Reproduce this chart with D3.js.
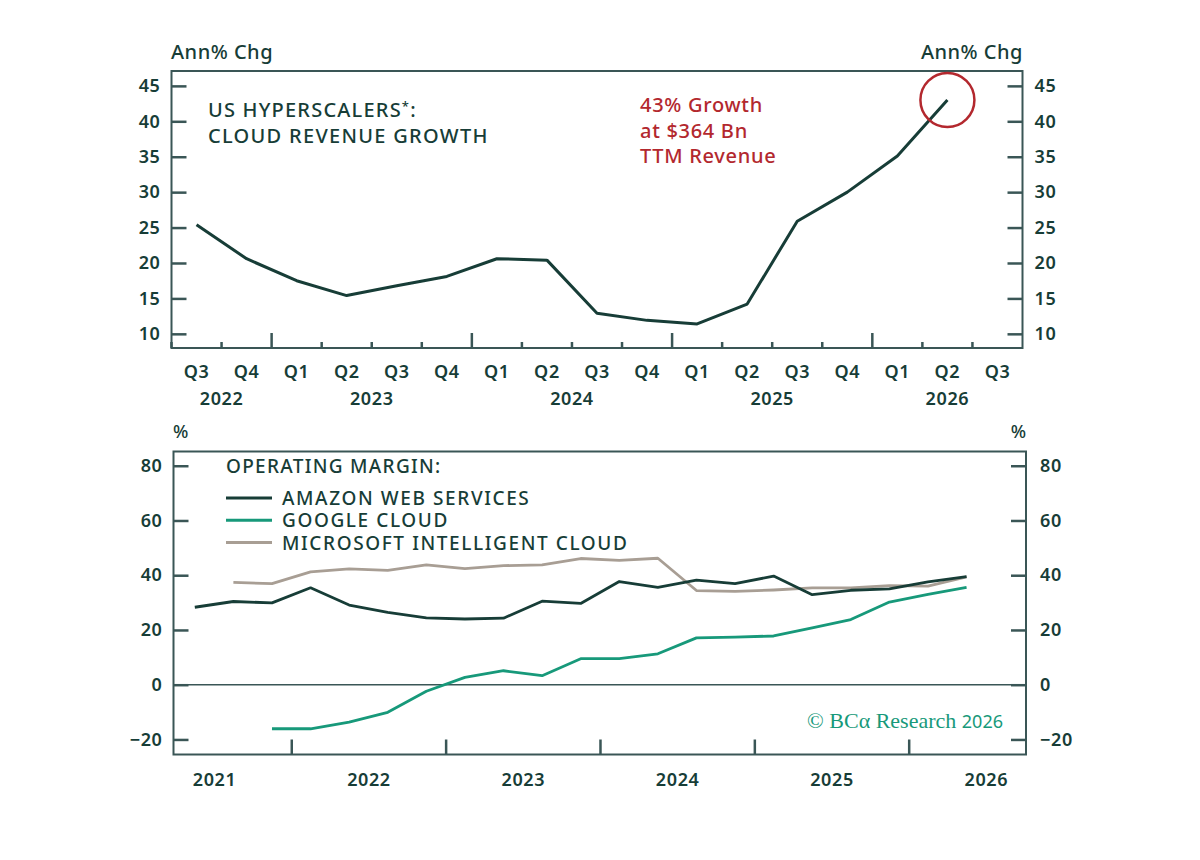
<!DOCTYPE html>
<html>
<head>
<meta charset="utf-8">
<script src="https://d3js.org/d3.v7.min.js"></script>
<style>
  body { margin: 0; background: #ffffff; }
  svg text { font-family: "Noto Sans", "DejaVu Sans", sans-serif; }
</style>
</head>
<body>
<div id="chart"></div>
<script>
// ---- data ----
// top panel: quarters shown on the axis (Q3 2022 .. Q3 2026)
var quarters = ["2022Q3","2022Q4","2023Q1","2023Q2","2023Q3","2023Q4","2024Q1","2024Q2",
                "2024Q3","2024Q4","2025Q1","2025Q2","2025Q3","2025Q4","2026Q1","2026Q2","2026Q3"];
// cloud revenue growth, ann% chg (Q3 2022 .. Q2 2026)
var growth = [25.4, 20.6, 17.5, 15.4, 16.8, 18.1, 20.6, 20.4, 12.9, 11.9, 11.4, 14.2, 25.9, 30.0, 35.1, 43.0];
var growthTicks = [10, 15, 20, 25, 30, 35, 40, 45];

// bottom panel: operating margins, Q2 2021 .. Q2 2026
var marginQuarters = ["2021Q2","2021Q3","2021Q4","2022Q1","2022Q2","2022Q3","2022Q4","2023Q1",
                      "2023Q2","2023Q3","2023Q4","2024Q1","2024Q2","2024Q3","2024Q4","2025Q1",
                      "2025Q2","2025Q3","2025Q4","2026Q1","2026Q2"];
var aws = [28.3, 30.4, 29.9, 35.4, 29.1, 26.4, 24.4, 24.0, 24.3, 30.5, 29.7, 37.7, 35.6, 38.2, 36.9, 39.7,
           32.9, 34.5, 35.0, 37.6, 39.5];
var google = [null, null, -16.1, -16.1, -13.7, -10.1, -2.4, 2.7, 5.1, 3.3, 9.5, 9.5, 11.3, 17.1, 17.4, 17.8,
              20.8, 23.8, 30.2, 33.0, 35.6];
var microsoft = [null, 37.4, 36.9, 41.2, 42.3, 41.8, 43.8, 42.4, 43.5, 43.8, 46.1, 45.4, 46.2, 34.4, 34.1, 34.6,
                 35.4, 35.4, 36.2, 36.0, 39.4];
var marginTicks = [-20, 0, 20, 40, 60, 80];
var years = [2021, 2022, 2023, 2024, 2025, 2026];

// ---- styles ----
var ink = "#173d37";
var frameColor = "#3a5656";
var awsColor = "#173d37";
var googleColor = "#17997a";
var msColor = "#a89e94";
var red = "#b3282e";

var svg = d3.select("#chart").append("svg")
  .attr("width", 1200)
  .attr("height", 860);

// ================= TOP PANEL =================
var t = { left: 171.5, right: 1022.5, top: 71, bottom: 348 };

var xq = d3.scaleBand().domain(quarters).range([t.left, t.right]);
var yg = d3.scaleLinear().domain([8, 47.1]).range([t.bottom, t.top]);

var topG = svg.append("g");

// y axes (ticks inward)
topG.append("g")
  .attr("transform", "translate(" + t.left + ",0)")
  .call(d3.axisLeft(yg).tickValues(growthTicks).tickSize(-15).tickPadding(11))
  .call(styleAxis);
topG.append("g")
  .attr("transform", "translate(" + t.right + ",0)")
  .call(d3.axisRight(yg).tickValues(growthTicks).tickSize(-15).tickPadding(12))
  .call(styleAxis);

// quarter ticks along the bottom: long at year starts
topG.append("g").selectAll("line")
  .data(quarters)
  .join("line")
  .attr("x1", function(q) { return xq(q); })
  .attr("x2", function(q) { return xq(q); })
  .attr("y1", t.bottom)
  .attr("y2", function(q) { return q.slice(4) === "Q1" ? t.bottom - 15 : t.bottom - 6; })
  .attr("stroke", frameColor)
  .attr("stroke-width", 2.5);

// quarter labels
topG.append("g")
  .attr("transform", "translate(0," + t.bottom + ")")
  .call(d3.axisBottom(xq).tickSize(0).tickPadding(17).tickFormat(function(q) { return q.slice(4); }))
  .call(styleAxis);

// year labels centred on their quarters
var qYears = d3.groups(quarters, function(q) { return q.slice(0, 4); });
topG.append("g").selectAll("text")
  .data(qYears)
  .join("text")
  .attr("x", function(d) { return d3.mean(d[1], function(q) { return xq(q) + xq.bandwidth() / 2; }); })
  .attr("y", 405)
  .attr("text-anchor", "middle")
  .attr("fill", ink)
  .style("font-size", "18px")
  .style("font-weight", 600)
  .style("letter-spacing", "0.6px")
  .text(function(d) { return d[0]; });

// frame
topG.append("rect")
  .attr("x", t.left).attr("y", t.top)
  .attr("width", t.right - t.left).attr("height", t.bottom - t.top)
  .attr("fill", "none").attr("stroke", frameColor).attr("stroke-width", 2);

// growth line
var lineG = d3.line()
  .x(function(d, i) { return xq(quarters[i]) + xq.bandwidth() / 2; })
  .y(function(d) { return yg(d); });
topG.append("path")
  .datum(growth)
  .attr("d", lineG)
  .attr("fill", "none")
  .attr("stroke", ink)
  .attr("stroke-width", 3)
  .attr("stroke-linejoin", "round");

// circle round the latest point
var lastI = growth.length - 1;
topG.append("circle")
  .attr("cx", xq(quarters[lastI]) + xq.bandwidth() / 2)
  .attr("cy", yg(growth[lastI]))
  .attr("r", 27)
  .attr("fill", "none")
  .attr("stroke", red)
  .attr("stroke-width", 2.5);

// unit labels
svg.append("text").attr("x", 171).attr("y", 59).attr("fill", ink)
  .style("font-size", "20px").style("font-weight", 500).style("letter-spacing", "0.5px").text("Ann% Chg");
svg.append("text").attr("x", 1023).attr("y", 59).attr("fill", ink).attr("text-anchor", "end")
  .style("font-size", "20px").style("font-weight", 500).style("letter-spacing", "0.5px").text("Ann% Chg");

// title
var title = svg.append("text").attr("x", 208).attr("fill", ink)
  .style("font-size", "20px").style("font-weight", 500).style("letter-spacing", "1.2px");
title.append("tspan").attr("x", 208).attr("y", 117).text("US HYPERSCALERS");
title.append("tspan").attr("dy", -6).style("font-size", "13px").text("*");
title.append("tspan").attr("dy", 6).text(":");
svg.append("text").attr("x", 208).attr("y", 142.5).attr("fill", ink)
  .style("font-size", "20px").style("font-weight", 500).style("letter-spacing", "1.3px")
  .text("CLOUD REVENUE GROWTH");

// annotation
var note = ["43% Growth", "at $364 Bn", "TTM Revenue"];
svg.append("g").selectAll("text")
  .data(note)
  .join("text")
  .attr("x", 640)
  .attr("y", function(d, i) { return 112 + i * 25.5; })
  .attr("fill", red)
  .style("font-size", "20px")
  .style("font-weight", 500)
  .style("letter-spacing", "0.7px")
  .text(function(d) { return d; });

// ================= BOTTOM PANEL =================
var b = { left: 173.5, right: 1026, top: 451.5, bottom: 754.5 };

function qMid(q) { return +q.slice(0, 4) + (+q.slice(5) - 1) / 4 + 0.125; }

var xt = d3.scaleLinear().domain([2021.237, 2026.76]).range([b.left, b.right]);
var ym = d3.scaleLinear().domain([-25.5, 85.2]).range([b.bottom, b.top]);

var bot = svg.append("g");

bot.append("g")
  .attr("transform", "translate(" + b.left + ",0)")
  .call(d3.axisLeft(ym).tickValues(marginTicks).tickSize(-15).tickPadding(11))
  .call(styleAxis);
bot.append("g")
  .attr("transform", "translate(" + b.right + ",0)")
  .call(d3.axisRight(ym).tickValues(marginTicks).tickSize(-15).tickPadding(14))
  .call(styleAxis);

// year boundary ticks
bot.append("g")
  .attr("transform", "translate(0," + b.bottom + ")")
  .call(d3.axisTop(xt).tickValues(years.slice(1)).tickSize(15).tickFormat(""))
  .call(function(g) {
    g.select(".domain").remove();
    g.selectAll(".tick line").attr("stroke", frameColor).attr("stroke-width", 2.5);
  });

// year labels at mid-year
bot.append("g")
  .attr("transform", "translate(0," + b.bottom + ")")
  .call(d3.axisBottom(xt).tickValues(years.map(function(y) { return y + 0.5; }))
    .tickSize(0).tickPadding(19).tickFormat(function(v) { return String(Math.floor(v)); }))
  .call(styleAxis);

// zero line
bot.append("line")
  .attr("x1", b.left).attr("x2", b.right)
  .attr("y1", ym(0)).attr("y2", ym(0))
  .attr("stroke", frameColor).attr("stroke-width", 1.5);

bot.append("rect")
  .attr("x", b.left).attr("y", b.top)
  .attr("width", b.right - b.left).attr("height", b.bottom - b.top)
  .attr("fill", "none").attr("stroke", frameColor).attr("stroke-width", 2);

var lineM = d3.line()
  .defined(function(d) { return d != null; })
  .x(function(d, i) { return xt(qMid(marginQuarters[i])); })
  .y(function(d) { return ym(d); });

var series = [
  { name: "MICROSOFT INTELLIGENT CLOUD", values: microsoft, color: msColor },
  { name: "AMAZON WEB SERVICES", values: aws, color: awsColor },
  { name: "GOOGLE CLOUD", values: google, color: googleColor }
];

bot.append("g").selectAll("path")
  .data(series)
  .join("path")
  .attr("d", function(s) { return lineM(s.values); })
  .attr("fill", "none")
  .attr("stroke", function(s) { return s.color; })
  .attr("stroke-width", 2.8)
  .attr("stroke-linejoin", "round");

// legend
svg.append("text").attr("x", 226).attr("y", 473).attr("fill", ink)
  .style("font-size", "19px").style("font-weight", 500).style("letter-spacing", "1.3px")
  .text("OPERATING MARGIN:");
var legendOrder = [series[1], series[2], series[0]];
var leg = svg.append("g").selectAll("g")
  .data(legendOrder)
  .join("g")
  .attr("transform", function(d, i) { return "translate(226," + (498 + i * 22.3) + ")"; });
leg.append("line")
  .attr("x1", 0).attr("x2", 46)
  .attr("stroke", function(d) { return d.color; })
  .attr("stroke-width", 3);
leg.append("text")
  .attr("x", 56).attr("y", 7)
  .attr("fill", ink)
  .style("font-size", "19px")
  .style("font-weight", 500)
  .style("letter-spacing", "1.6px")
  .text(function(d) { return d.name; });

// units
svg.append("text").attr("x", 173).attr("y", 438).attr("fill", ink)
  .style("font-size", "18px").style("font-weight", 500).text("%");
svg.append("text").attr("x", 1026).attr("y", 438).attr("fill", ink).attr("text-anchor", "end")
  .style("font-size", "18px").style("font-weight", 500).text("%");

// credit
var credit = svg.append("text").attr("x", 1003).attr("y", 728).attr("text-anchor", "end")
  .attr("fill", googleColor)
  .style("font-family", "'Liberation Serif', 'DejaVu Serif', serif")
  .style("font-size", "22px");
credit.append("tspan").text("© BCα Research ");
credit.append("tspan").style("font-size", "18px").style("font-family", "'Noto Sans', sans-serif").text("2026");

function styleAxis(g) {
  g.select(".domain").remove();
  g.selectAll(".tick line").attr("stroke", frameColor).attr("stroke-width", 2.5);
  g.selectAll(".tick text")
    .attr("fill", ink)
    .style("font-family", "'Noto Sans', sans-serif")
    .style("font-size", "18px")
    .style("font-weight", 600)
    .style("letter-spacing", "0.6px");
}
</script>
</body>
</html>
